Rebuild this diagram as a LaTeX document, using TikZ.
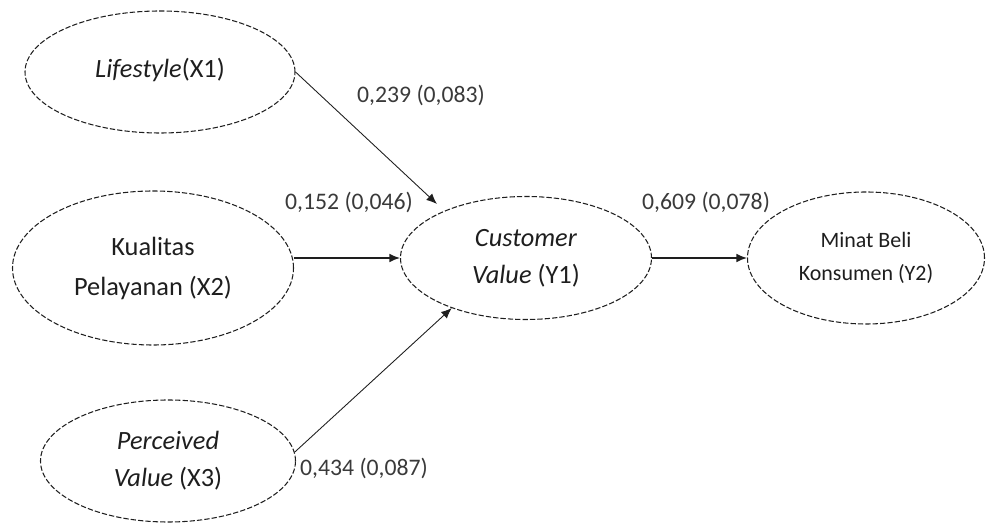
\documentclass[tikz,border=0pt]{standalone}
\usepackage{fontspec}
\setmainfont{Carlito}
\usetikzlibrary{arrows.meta,positioning,shapes.geometric}
\definecolor{InkBlack}{HTML}{1E1E1E}
\definecolor{CoefGray}{HTML}{3A3A3A}
\tikzset{
  latent/.style 2 args={ellipse,draw=InkBlack,line width=0.6pt,
               dash pattern=on 3pt off 1.2pt,inner sep=0pt,
               minimum width=#1,minimum height=#2,align=center,
               text=InkBlack,font=\fontsize{15}{21}\selectfont},
  coef/.style={font=\fontsize{13.5}{15}\selectfont,text=CoefGray},
  arr/.style={-{Latex[length=6pt,width=5pt]},line width=0.5pt,color=InkBlack},
  harr/.style={-{Latex[length=6pt,width=5pt]},line width=0.9pt,color=InkBlack},
}

\begin{document}
\begin{tikzpicture}
  \useasboundingbox (0,0) rectangle (19.8,-10.46);

  % exogenous constructs
  \node[latent={5.4cm}{2.44cm}] (ls) at (3.2,-1.44)
    {\raisebox{0.18cm}{\textit{Lifestyle}(X1)}};
  \node[latent={5.62cm}{3.08cm}] (kp) at (3.06,-5.36)
    {\raisebox{0.13cm}{\begin{tabular}{@{}c@{}}Kualitas\\[2pt] Pelayanan (X2)\end{tabular}}};
  \node[latent={5.1cm}{2.44cm}] (pv) at (3.36,-9.22)
    {\textit{Perceived}\\ \textit{Value} (X3)};

  % endogenous constructs
  \node[latent={5.02cm}{2.46cm}] (cv) at (10.52,-5.16)
    {\textit{Customer}\\ \textit{Value} (Y1)};
  \node[latent={4.74cm}{2.64cm},font=\fontsize{12.5}{18.5}\selectfont] (mb) at (17.32,-5.16)
    {Minat Beli\\ Konsumen (Y2)};

  % paths
  \draw[arr,shorten >=2mm] (ls.east) -- (cv.150);
  \draw[harr] (kp.east |- cv.west) -- (cv.west);
  \draw[arr]  (pv.4) -- (cv.214);
  \draw[harr] (cv.east) -- (mb.west);

  % coefficients
  \node[coef] (c1) at (8.42,-1.9) {0,239 (0,083)};
  \node[coef] (c2) at (6.98,-4.04) {0,152 (0,046)};
  \node[coef] (c3) at (7.28,-9.36) {0,434 (0,087)};
  \node[coef] (c4) at (14.12,-4.04) {0,609 (0,078)};
\end{tikzpicture}
\end{document}
